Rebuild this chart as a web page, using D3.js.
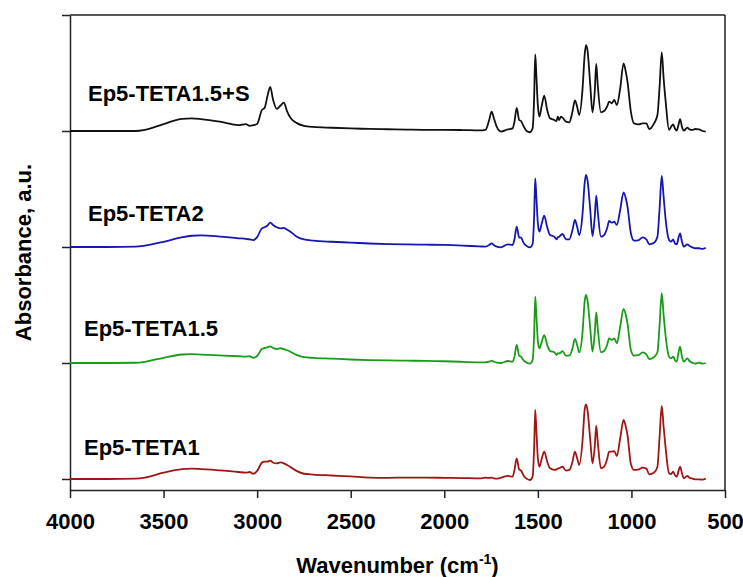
<!DOCTYPE html>
<html>
<head>
<meta charset="utf-8">
<script src="https://cdn.jsdelivr.net/npm/d3@7"></script>
<style>
  html, body { margin: 0; padding: 0; background: #fff; }
  svg { display: block; }
  text { font-family: Arial, "Liberation Sans", sans-serif; font-weight: bold; fill: #000; }
</style>
</head>
<body>
<svg id="chart" width="743" height="577"></svg>
<script>
// ---------- DATA ----------
const seriesNames = ["Ep5-TETA1", "Ep5-TETA1.5", "Ep5-TETA2", "Ep5-TETA1.5+S"];
const seriesColors = ["#a01616", "#1a9c1a", "#1616b0", "#111111"];
const offsets = [0, 1, 2, 3]; // vertical stacking offsets (absorbance units)

const xTicks = [4000, 3500, 3000, 2500, 2000, 1500, 1000, 500];
const yTicks = [0, 1, 2, 3, 4];

const wavenumbers = [
  4000, 3800, 3650, 3600, 3500, 3400, 3350, 3300, 3200, 3100, 3060, 3040, 3020, 3000,
  2975, 2960, 2945, 2930, 2915, 2895, 2875, 2857, 2840, 2820, 2790, 2750, 2700, 2600,
  2500, 2400, 2300, 2200, 2100, 2000, 1900, 1812,
  1780, 1760, 1747, 1735, 1720, 1697, 1661, 1635, 1625, 1613, 1600, 1590, 1575, 1560,
  1542, 1528, 1520, 1514, 1508, 1500, 1492, 1480, 1466, 1450, 1435, 1412, 1400, 1394,
  1386, 1377, 1368, 1350, 1332, 1315, 1302, 1290, 1279, 1261, 1250, 1243, 1235, 1220,
  1208, 1196, 1188, 1180, 1163, 1146, 1130, 1119, 1105, 1092, 1078, 1060, 1042, 1030,
  1021, 1003, 986, 960, 941, 920, 905, 879, 861, 850, 838, 828, 817, 799, 788, 777,
  768, 758, 748, 740, 730, 720, 701, 690, 674, 660, 639, 620, 603
];

const absTETA1 = [
  0, 0, 0.003, 0.012, 0.055, 0.085, 0.089, 0.085, 0.075, 0.06, 0.055, 0.06, 0.045, 0.07,
  0.14, 0.15, 0.15, 0.158, 0.14, 0.135, 0.143, 0.135, 0.12, 0.1, 0.07, 0.045, 0.038, 0.03,
  0.022, 0.012, 0.01, 0.012, 0.012, 0.01, 0.008, 0.005,
  0.011, 0.009, 0.011, 0.006, 0.003, 0.011, 0.026, 0.02, 0.078, 0.178, 0.083, 0.072, 0.026, 0.003,
  -0.009, 0.02, 0.264, 0.595, 0.422, 0.178, 0.106, 0.17, 0.236, 0.149, 0.092, 0.078, 0.083, 0.089,
  0.092, 0.1, 0.106, 0.072, 0.078, 0.149, 0.236, 0.178, 0.121, 0.336, 0.595, 0.644, 0.595, 0.336,
  0.135, 0.279, 0.46, 0.322, 0.092, 0.106, 0.17, 0.236, 0.236, 0.241, 0.198, 0.351, 0.509, 0.451,
  0.379, 0.129, 0.078, 0.083, 0.098, 0.089, 0.04, 0.055, 0.106, 0.351, 0.629, 0.451, 0.264, 0.049, 0.043, 0.063,
  0.034, 0.02, 0.072, 0.106, 0.049, 0.006, 0.026, 0.011, 0.003, -0.003, -0.003, -0.006, 0.003
];

const absTETA15 = [
  0, 0, 0.002, 0.01, 0.045, 0.073, 0.076, 0.072, 0.065, 0.058, 0.055, 0.058, 0.045, 0.06,
  0.12, 0.13, 0.135, 0.143, 0.13, 0.12, 0.127, 0.12, 0.11, 0.095, 0.07, 0.05, 0.044, 0.037,
  0.03, 0.025, 0.022, 0.02, 0.018, 0.015, 0.01, 0.005,
  0.006, 0.011, 0.02, 0.011, 0.003, 0, 0.017, 0.011, 0.055, 0.155, 0.063, 0.055, 0.02, 0.003,
  -0.006, 0.026, 0.241, 0.572, 0.414, 0.19, 0.126, 0.178, 0.241, 0.155, 0.103, 0.092, 0.069, 0.083,
  0.083, 0.092, 0.103, 0.063, 0.063, 0.126, 0.207, 0.155, 0.092, 0.27, 0.529, 0.586, 0.543, 0.299,
  0.098, 0.256, 0.437, 0.299, 0.092, 0.103, 0.155, 0.213, 0.198, 0.213, 0.17, 0.313, 0.466, 0.414,
  0.342, 0.112, 0.063, 0.069, 0.092, 0.075, 0.034, 0.052, 0.092, 0.313, 0.601, 0.414, 0.227, 0.055, 0.04, 0.055,
  0.026, 0.011, 0.092, 0.141, 0.055, 0.011, 0.04, 0.017, 0.003, -0.006, 0.003, -0.006, 0
];

const absTETA2 = [
  0, 0, 0.003, 0.012, 0.045, 0.085, 0.097, 0.1, 0.09, 0.075, 0.07, 0.065, 0.06, 0.085,
  0.16, 0.17, 0.185, 0.21, 0.19, 0.17, 0.16, 0.165, 0.15, 0.13, 0.09, 0.065, 0.055, 0.045,
  0.038, 0.03, 0.025, 0.022, 0.02, 0.018, 0.012, 0.005,
  0.003, 0.017, 0.032, 0.017, 0.003, -0.003, 0.023, 0.017, 0.066, 0.175, 0.083, 0.08, 0.032, 0.009,
  -0.003, 0.026, 0.26, 0.592, 0.434, 0.204, 0.132, 0.198, 0.27, 0.17, 0.103, 0.089, 0.066, 0.083,
  0.089, 0.103, 0.112, 0.066, 0.066, 0.147, 0.233, 0.175, 0.103, 0.29, 0.549, 0.621, 0.578, 0.319,
  0.095, 0.261, 0.443, 0.305, 0.089, 0.103, 0.161, 0.224, 0.21, 0.218, 0.19, 0.319, 0.471, 0.42,
  0.348, 0.118, 0.055, 0.06, 0.083, 0.066, 0.023, 0.037, 0.089, 0.319, 0.612, 0.434, 0.233, 0.06, 0.046, 0.066,
  0.032, 0.023, 0.083, 0.118, 0.046, 0.003, 0.023, 0.009, -0.003, -0.011, -0.011, -0.017, -0.006
];

const absTETA15S = [
  0, 0, 0, 0.01, 0.06, 0.105, 0.108, 0.102, 0.08, 0.05, 0.06, 0.045, 0.05, 0.06,
  0.18, 0.2, 0.3, 0.38, 0.27, 0.19, 0.22, 0.245, 0.17, 0.11, 0.07, 0.045, 0.035, 0.028,
  0.022, 0.018, 0.015, 0.012, 0.01, 0.01, 0.008, 0.005,
  0.01, 0.095, 0.167, 0.11, 0.037, -0.005, 0.014, 0.023, 0.08, 0.2, 0.095, 0.086, 0.037, 0,
  -0.011, 0.023, 0.28, 0.66, 0.48, 0.22, 0.124, 0.21, 0.305, 0.18, 0.11, 0.095, 0.086, 0.124,
  0.095, 0.124, 0.115, 0.08, 0.075, 0.167, 0.264, 0.21, 0.138, 0.368, 0.655, 0.741, 0.70, 0.397,
  0.161, 0.34, 0.578, 0.397, 0.161, 0.172, 0.21, 0.253, 0.239, 0.267, 0.224, 0.368, 0.583, 0.51,
  0.425, 0.167, 0.066, 0.057, 0.066, 0.066, 0.017, 0.066, 0.138, 0.368, 0.678, 0.454, 0.253, 0.009, 0.037, 0.057,
  0.023, 0.003, 0.057, 0.103, 0.037, 0.003, 0.029, 0.014, 0.009, 0.017, 0.014, 0, -0.005
];

const seriesValues = [absTETA1, absTETA15, absTETA2, absTETA15S];

// ---------- LAYOUT ----------
const svg = d3.select("#chart");
const margin = { left: 70, right: 18, top: 15, bottom: 87 };
const W = 743, H = 577;
const x = d3.scaleLinear().domain([4000, 500]).range([margin.left, W - margin.right]);
const y = d3.scaleLinear().domain([-0.095, 4]).range([H - margin.bottom, margin.top]);

const axisColor = "#222";

// frame (top and right)
svg.append("line").attr("x1", x(4000)).attr("x2", x(500)).attr("y1", y(4)).attr("y2", y(4))
  .attr("stroke", axisColor).attr("stroke-width", 1.5);
svg.append("line").attr("x1", x(500)).attr("x2", x(500)).attr("y1", y(4)).attr("y2", y(-0.095))
  .attr("stroke", axisColor).attr("stroke-width", 1.5);

// bottom axis
const gx = svg.append("g").attr("transform", `translate(0,${y(-0.095)})`)
  .call(d3.axisBottom(x).tickValues(xTicks).tickSize(8).tickSizeOuter(0).tickPadding(15).tickFormat(d3.format("d")));
gx.selectAll("text").style("font-size", "22px").style("font-weight", "bold")
  .style("font-family", "Arial, 'Liberation Sans', sans-serif").attr("fill", "#000");

// left axis
const gy = svg.append("g").attr("transform", `translate(${x(4000)},0)`)
  .call(d3.axisLeft(y).tickValues(yTicks).tickSize(8).tickSizeOuter(0).tickFormat(""));

[gx, gy].forEach(g => {
  g.select(".domain").attr("stroke", axisColor).attr("stroke-width", 1.5);
  g.selectAll(".tick line").attr("stroke", axisColor).attr("stroke-width", 1.5);
});

// axis titles
const xt = svg.append("text").attr("x", (x(4000) + x(500)) / 2).attr("y", 573)
  .attr("text-anchor", "middle").style("font-size", "22px");
xt.append("tspan").text("Wavenumber (cm");
xt.append("tspan").attr("dy", -9).style("font-size", "14px").text("-1");
xt.append("tspan").attr("dy", 9).text(")");

svg.append("text").attr("transform", `translate(31,${(y(4) + y(-0.095)) / 2}) rotate(-90)`)
  .attr("text-anchor", "middle").style("font-size", "22px")
  .text("Absorbance, a.u.");

// spectra
const line = d3.line().curve(d3.curveMonotoneX);
seriesValues.forEach((vals, i) => {
  const pts = wavenumbers.map((w, k) => [x(w), y(vals[k] + offsets[i])]);
  svg.append("path").attr("d", line(pts)).attr("fill", "none")
    .attr("stroke", seriesColors[i]).attr("stroke-width", 1.8).attr("stroke-linejoin", "round");
});

// series labels
const labelX = [84, 84, 88, 88];
const labelLift = [24, 27, 26, 30];
seriesNames.forEach((name, i) => {
  svg.append("text").attr("x", labelX[i]).attr("y", y(offsets[i]) - labelLift[i])
    .style("font-size", "22px").text(name);
});
</script>
</body>
</html>
